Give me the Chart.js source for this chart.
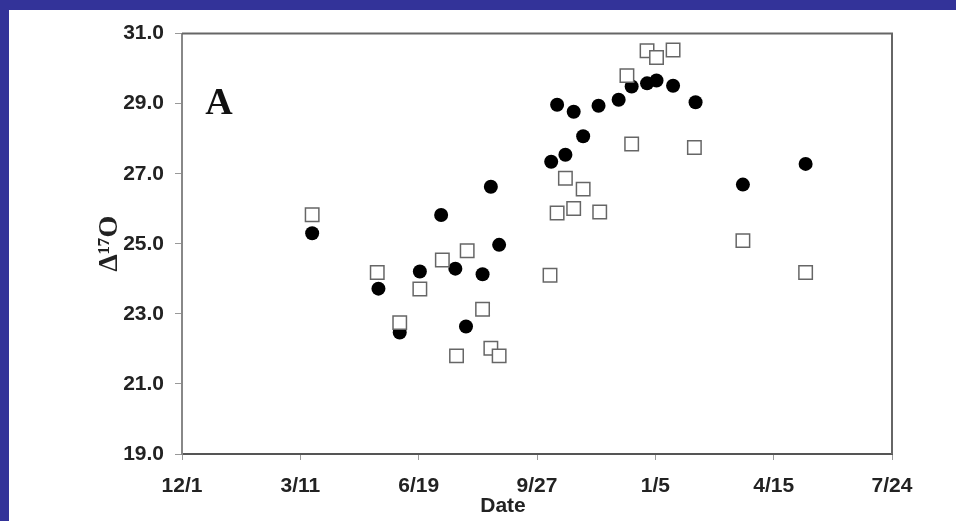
<!DOCTYPE html>
<html>
<head>
<meta charset="utf-8">
<script src="https://cdn.jsdelivr.net/npm/chart.js@4.4.1/dist/chart.umd.min.js"></script>
<style>
  html, body { margin: 0; padding: 0; background: #333399; overflow: hidden; }
  #panel { position: absolute; left: 9px; top: 10px; width: 947px; height: 511px; background: #fff; }
  #chart { display: block; }
</style>
</head>
<body>
<div id="panel"><canvas id="chart" width="947" height="511"></canvas></div>
<script>
// x = days since 12/1, y = Δ17O (‰)
const dateTicks = ['12/1', '3/11', '6/19', '9/27', '1/5', '4/15', '7/24'];

const filledDays = [110, 166, 184, 201, 219, 231, 240, 254, 261, 268, 312, 317, 324, 331, 339, 352, 369, 380, 393, 401, 415, 434, 474, 527];
const filledD17O = [25.30, 23.72, 22.47, 24.21, 25.82, 24.29, 22.64, 24.13, 26.63, 24.97, 27.34, 28.97, 27.54, 28.77, 28.07, 28.94, 29.11, 29.49, 29.58, 29.66, 29.51, 29.04, 26.69, 27.28];

const openDays = [110, 165, 184, 201, 220, 232, 241, 254, 261, 268, 311, 317, 324, 331, 339, 353, 376, 380, 393, 401, 415, 433, 474, 527];
const openD17O = [25.83, 24.18, 22.75, 23.71, 24.54, 21.80, 24.80, 23.13, 22.02, 21.80, 24.10, 25.88, 26.87, 26.01, 26.56, 25.91, 29.80, 27.85, 30.51, 30.32, 30.53, 27.75, 25.09, 24.18];

const toPoints = (xs, ys) => xs.map((x, i) => ({ x: x, y: ys[i] }));

const extras = {
    id: 'extras',
    afterDraw(chart) {
        const { ctx, chartArea: a } = chart;
        ctx.save();
        // top and right frame lines
        ctx.strokeStyle = '#666';
        ctx.lineWidth = 2;
        ctx.beginPath();
        ctx.moveTo(a.left, a.top);
        ctx.lineTo(a.right, a.top);
        ctx.lineTo(a.right, a.bottom);
        ctx.stroke();
        // panel letter
        ctx.fillStyle = '#111';
        ctx.font = 'bold 38px "Liberation Serif", "DejaVu Serif", serif';
        ctx.textAlign = 'center';
        ctx.textBaseline = 'middle';
        ctx.fillText('A', 210, 94);
        // x axis title
        ctx.font = 'bold 21px "Liberation Sans", Arial, sans-serif';
        ctx.fillStyle = '#222';
        ctx.fillText('Date', 494, 496);
        ctx.restore();
    }
};

new Chart(document.getElementById('chart'), {
    type: 'scatter',
    data: {
        datasets: [
            {
                label: 'open',
                data: toPoints(openDays, openD17O),
                pointStyle: 'rect',
                pointRadius: 9.5,
                backgroundColor: '#fff',
                borderColor: '#666',
                borderWidth: 1.5,
                order: 0
            },
            {
                label: 'filled',
                data: toPoints(filledDays, filledD17O),
                pointStyle: 'circle',
                pointRadius: 7,
                backgroundColor: '#000',
                borderColor: '#000',
                borderWidth: 0,
                order: 1
            }
        ]
    },
    options: {
        responsive: false,
        animation: false,
        events: [],
        layout: { padding: { left: 0, top: 23, right: 64, bottom: 0 } },
        plugins: { legend: { display: false }, tooltip: { enabled: false } },
        scales: {
            x: {
                type: 'linear',
                min: 0,
                max: 600,
                afterFit: s => { s.height = 67; },
                border: { color: '#555', width: 2 },
                grid: { drawOnChartArea: false, drawTicks: true, tickLength: 6, color: '#999' },
                ticks: {
                    stepSize: 100,
                    padding: 14,
                    color: '#222',
                    font: { family: '"Liberation Sans", Arial, sans-serif', size: 21, weight: 'bold' },
                    callback: v => dateTicks[v / 100]
                }
            },
            y: {
                min: 19,
                max: 31,
                afterFit: s => { s.width = 173; },
                border: { color: '#888', width: 2 },
                grid: { drawOnChartArea: false, drawTicks: true, tickLength: 7, color: '#999' },
                ticks: {
                    stepSize: 2,
                    padding: 11,
                    color: '#222',
                    font: { family: '"Liberation Sans", Arial, sans-serif', size: 21, weight: 'bold' },
                    callback: v => v.toFixed(1)
                },
                title: {
                    display: true,
                    text: 'Δ¹⁷O',
                    color: '#222',
                    padding: { top: 84, bottom: 0 },
                    font: { family: '"Liberation Serif", "DejaVu Serif", serif', size: 28, weight: 'bold' }
                }
            }
        }
    },
    plugins: [extras]
});
</script>
</body>
</html>
